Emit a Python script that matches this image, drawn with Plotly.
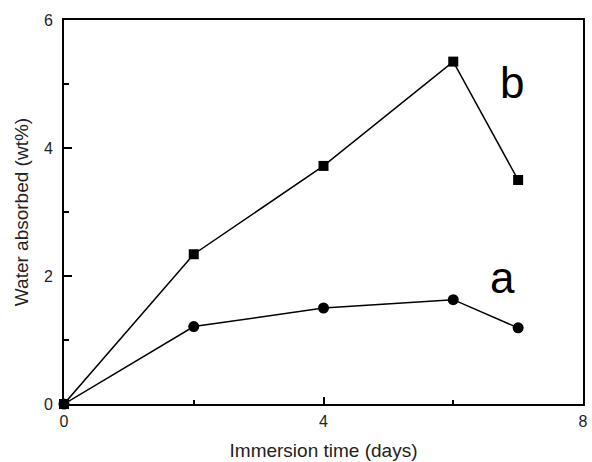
import plotly.graph_objects as go

days = [0, 2, 4, 6, 7]
series_a = [0, 1.21, 1.50, 1.63, 1.19]
series_b = [0, 2.34, 3.72, 5.35, 3.50]
x_ticks = [0, 4, 8]
y_ticks = [0, 2, 4, 6]

FONT = "Liberation Sans, Arial, sans-serif"

fig = go.Figure()
fig.add_trace(go.Scatter(x=days, y=series_b, mode="lines+markers",
                         line=dict(color="black", width=1.5),
                         marker=dict(symbol="square", size=10, color="black"),
                         showlegend=False, cliponaxis=False))
fig.add_trace(go.Scatter(x=days, y=series_a, mode="lines+markers",
                         line=dict(color="black", width=1.5),
                         marker=dict(symbol="circle", size=11, color="black"),
                         showlegend=False, cliponaxis=False))

fig.add_annotation(x=6.9, y=5.03, text="b", showarrow=False,
                   font=dict(family=FONT, size=44, color="black"))
fig.add_annotation(x=6.76, y=1.97, text="a", showarrow=False,
                   font=dict(family=FONT, size=44, color="black"))

fig.update_layout(
    width=592, height=462,
    margin=dict(l=64, r=4, t=20, b=57),
    paper_bgcolor="white", plot_bgcolor="white",
    font=dict(family=FONT, size=16, color="#222"),
)
fig.update_xaxes(range=[0, 8], tickvals=x_ticks, ticks="inside", ticklen=7,
                 tickwidth=1.5, tickcolor="black", ticklabelstandoff=2,
                 showline=True, linecolor="black", linewidth=2, mirror=True,
                 showgrid=False, zeroline=False,
                 minor=dict(tickvals=[2, 6], ticks="inside", ticklen=4,
                            tickwidth=1.5, tickcolor="black", showgrid=False),
                 title=dict(text="Immersion time (days)", font=dict(size=19), standoff=14))
fig.update_yaxes(range=[0, 6], tickvals=y_ticks, ticks="inside", ticklen=8,
                 tickwidth=1.5, tickcolor="black", ticklabelstandoff=6,
                 showline=True, linecolor="black", linewidth=2, mirror=True,
                 showgrid=False, zeroline=False,
                 minor=dict(tickvals=[1, 3, 5], ticks="inside", ticklen=5,
                            tickwidth=1.5, tickcolor="black", showgrid=False),
                 title=dict(text="Water absorbed (wt%)", font=dict(size=19), standoff=10))

fig.write_html("out.html")
